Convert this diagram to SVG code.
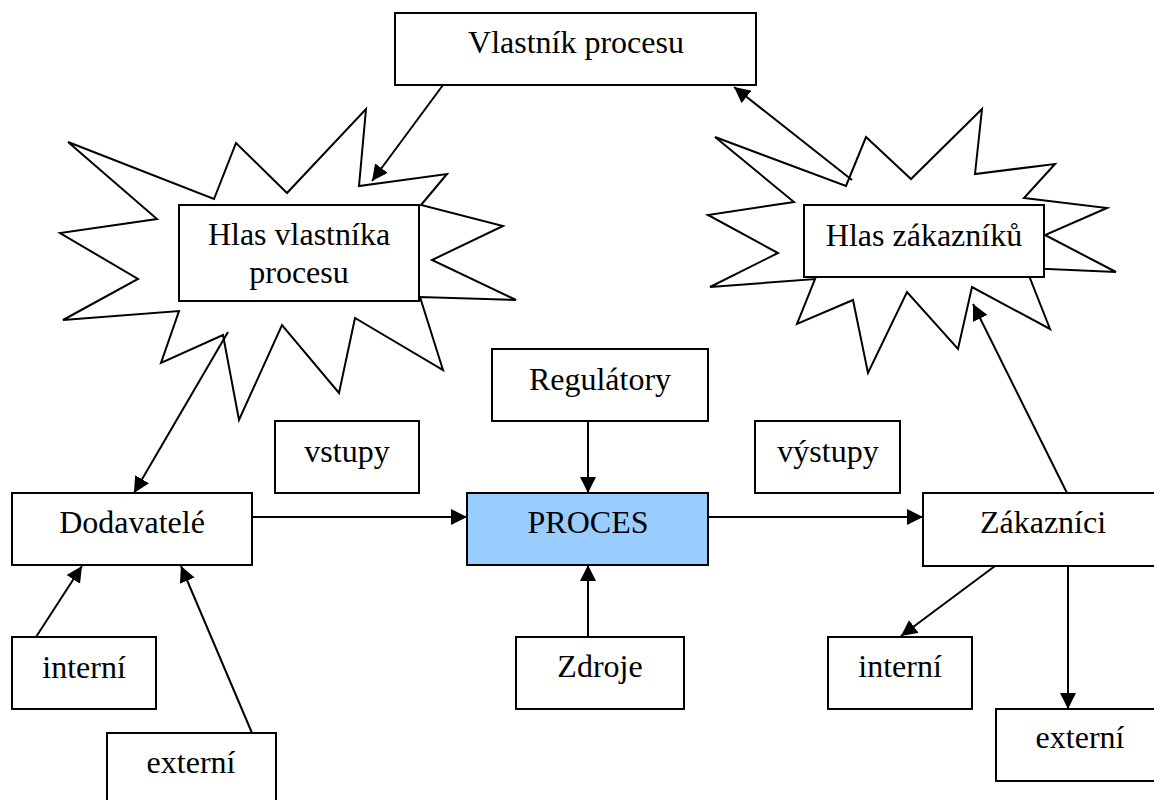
<svg xmlns="http://www.w3.org/2000/svg" width="1154" height="800" viewBox="0 0 1154 800">
  <style>
    .box { fill: #ffffff; stroke: #000000; stroke-width: 2; }
    .proc { fill: #99ccff; stroke: #000000; stroke-width: 2; }
    .burst { fill: #ffffff; stroke: #000000; stroke-width: 2; stroke-linejoin: miter; }
    .lbl { font-family: "Liberation Serif", "Times New Roman", serif; font-size: 32px; fill: #000000; text-anchor: middle; }
    .conn { stroke: #000000; stroke-width: 2; fill: none; marker-end: url(#arrow); }
  </style>
  <defs>
    <marker id="arrow" markerUnits="userSpaceOnUse" markerWidth="17" markerHeight="16" refX="16" refY="8" orient="auto">
      <path d="M0,0 L16,8 L0,16 Z" fill="#000000"/>
    </marker>
  </defs>
  <rect width="1154" height="800" fill="#ffffff"/>

  <!-- voice of the process owner -->
  <g id="hlas-vlastnika">
    <polygon class="burst" points="68,142 214,199 236,143 287,193 366,109 359,186 447,174 421,205 503,226 432,260 516,300 420,297 443,370 355,318 339,393 282,325 239,420 223,335 161,363 179,311 63,320 138,279 60,233 157,219"/>
    <rect class="box" x="179" y="205" width="240" height="96"/>
    <text class="lbl" x="299" y="245">Hlas vlastníka</text>
    <text class="lbl" x="299" y="283">procesu</text>
  </g>

  <!-- voice of the customers -->
  <g id="hlas-zakazniku">
    <polygon class="burst" points="715,137 846,186 866,137 911,179 982,109 975,174 1055,164 1024,198 1107,208 1045,235 1116,272 1026,268 1050,329 972,287 958,349 907,292 868,373 853,300 797,324 815,279 710,287 778,253 708,215 794,202"/>
    <rect class="box" x="804" y="205" width="240" height="72"/>
    <text class="lbl" x="924" y="246">Hlas zákazníků</text>
  </g>

  <g id="vlastnik">
    <rect class="box" x="395" y="13" width="361" height="72"/>
    <text class="lbl" x="576" y="53">Vlastník procesu</text>
  </g>

  <g id="regulatory">
    <rect class="box" x="492" y="349" width="216" height="72"/>
    <text class="lbl" x="600" y="390">Regulátory</text>
  </g>

  <g id="proces">
    <rect class="proc" x="467" y="493" width="241" height="72"/>
    <text class="lbl" x="588" y="533">PROCES</text>
  </g>

  <g id="zdroje">
    <rect class="box" x="516" y="637" width="168" height="72"/>
    <text class="lbl" x="600" y="677">Zdroje</text>
  </g>

  <g id="vstupy">
    <rect class="box" x="275" y="421" width="144" height="72"/>
    <text class="lbl" x="347" y="462">vstupy</text>
  </g>

  <g id="vystupy">
    <rect class="box" x="755" y="421" width="145" height="72"/>
    <text class="lbl" x="828" y="462">výstupy</text>
  </g>

  <g id="dodavatele">
    <rect class="box" x="12" y="493" width="240" height="72"/>
    <text class="lbl" x="132" y="533">Dodavatelé</text>
  </g>

  <g id="zakaznici">
    <rect class="box" x="923" y="493" width="241" height="73"/>
    <text class="lbl" x="1043" y="533">Zákazníci</text>
  </g>

  <g id="dod-interni">
    <rect class="box" x="12" y="637" width="144" height="72"/>
    <text class="lbl" x="84" y="678">interní</text>
  </g>

  <g id="dod-externi">
    <rect class="box" x="107" y="733" width="169" height="72"/>
    <text class="lbl" x="191" y="773">externí</text>
  </g>

  <g id="zak-interni">
    <rect class="box" x="828" y="637" width="144" height="72"/>
    <text class="lbl" x="900" y="677">interní</text>
  </g>

  <g id="zak-externi">
    <rect class="box" x="996" y="709" width="168" height="72"/>
    <text class="lbl" x="1080" y="748">externí</text>
  </g>

  <!-- connectors -->
  <g id="connectors">
    <line class="conn" x1="443" y1="85" x2="372" y2="181"/>
    <line class="conn" x1="852" y1="180" x2="734" y2="87"/>
    <line class="conn" x1="228" y1="332" x2="134" y2="493"/>
    <line class="conn" x1="1067" y1="493" x2="973" y2="304"/>
    <line class="conn" x1="588" y1="421" x2="588" y2="493"/>
    <line class="conn" x1="588" y1="637" x2="588" y2="565"/>
    <line class="conn" x1="252" y1="517" x2="467" y2="517"/>
    <line class="conn" x1="708" y1="517" x2="923" y2="517"/>
    <line class="conn" x1="36" y1="637" x2="82" y2="566"/>
    <line class="conn" x1="252" y1="733" x2="181" y2="566"/>
    <line class="conn" x1="995" y1="566" x2="901" y2="636"/>
    <line class="conn" x1="1068" y1="566" x2="1068" y2="709"/>
  </g>
</svg>
